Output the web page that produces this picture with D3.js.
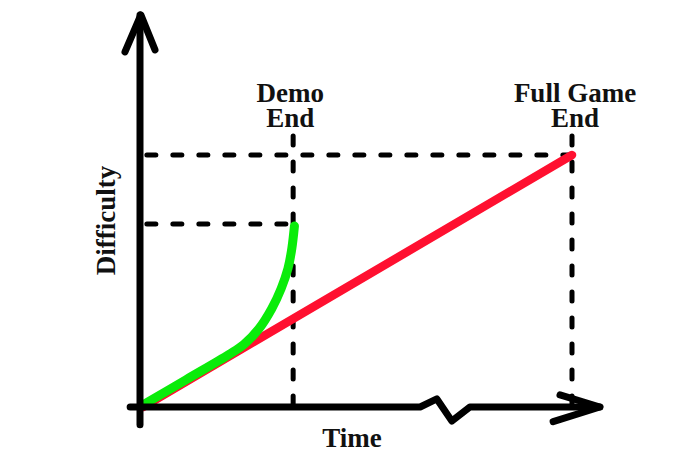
<!DOCTYPE html>
<html>
<head>
<meta charset="utf-8">
<script src="https://cdn.jsdelivr.net/npm/d3@7"></script>
<style>
  html, body { margin: 0; padding: 0; background: #fff; }
  svg { display: block; }
  text { font-family: "Liberation Serif", "Times New Roman", serif; font-weight: bold; fill: #111; }
</style>
</head>
<body>
<div id="chart"></div>
<script>
// ---- data (time and difficulty in relative units; full game end = 1) ----
const milestoneNames = ["Demo End", "Full Game End"];
const milestoneTime = [0.35, 1.0];
const milestoneDifficulty = [0.726, 1.0];

// full game difficulty: steady linear ramp
const fullTime = [0, 1.0];
const fullDifficulty = [0, 1.0];

// demo difficulty: follows the ramp, then spikes before the demo ends
const demoTime = [0, 0.10, 0.20, 0.235, 0.27, 0.30, 0.322, 0.338, 0.347, 0.353];
const demoDifficulty = [0.008, 0.108, 0.208, 0.248, 0.31, 0.39, 0.47, 0.55, 0.63, 0.718];

// axis decorations, in the same data units
const yAxisTop = 1.556;
const yAxisBottom = -0.07;
const xAxisStart = -0.03;
const xAxisEnd = 1.065;
const xBreakTime = [0.646, 0.685, 0.72, 0.762];
const xBreakLevel = [0, 0.032, -0.056, 0];

const W = 700, H = 466;
const svg = d3.select("#chart").append("svg").attr("width", W).attr("height", H);

const x = d3.scaleLinear().domain([0, 1]).range([143, 572]);
const y = d3.scaleLinear().domain([0, 1]).range([407, 155]);

const line = d3.line().x(d => x(d[0])).y(d => y(d[1]));

// dashed guide lines
const guides = svg.append("g")
  .attr("fill", "none").attr("stroke", "#000").attr("stroke-width", 5)
  .attr("stroke-linecap", "round").attr("stroke-dasharray", "9,17");
milestoneTime.forEach((t, i) => {
  guides.append("path").attr("d", line([[0.009, milestoneDifficulty[i]], [t, milestoneDifficulty[i]]]));
  guides.append("path").attr("d", line([[t, 1.075], [t, 0.01]]));
});

// full game line (red)
svg.append("path")
  .attr("d", line(fullTime.map((t, i) => [t, fullDifficulty[i]])))
  .attr("fill", "none").attr("stroke", "#ff1030").attr("stroke-width", 8.5)
  .attr("stroke-linecap", "round");

// demo curve (green)
svg.append("path")
  .attr("d", line.curve(d3.curveCatmullRom)(demoTime.map((t, i) => [t, demoDifficulty[i]])))
  .attr("fill", "none").attr("stroke", "#0aec0a").attr("stroke-width", 9)
  .attr("stroke-linecap", "round").attr("stroke-linejoin", "round");
line.curve(d3.curveLinear);

// axes
const ax = svg.append("g").attr("fill", "none").attr("stroke", "#000")
  .attr("stroke-width", 7).attr("stroke-linecap", "round").attr("stroke-linejoin", "round");
const yAxisX = -0.007;
ax.append("path").attr("d", line([[yAxisX, yAxisBottom], [yAxisX, yAxisTop]]));
ax.append("path").attr("d", line([[-0.042, 1.409], [-0.005, yAxisTop], [0.028, 1.417]]));
const xAxisPts = [[xAxisStart, 0]]
  .concat(xBreakTime.map((t, i) => [t, xBreakLevel[i]]))
  .concat([[xAxisEnd, 0]]);
ax.append("path").attr("d", line(xAxisPts));
ax.append("path").attr("d", line([[0.972, 0.048], [xAxisEnd, 0], [0.956, -0.058]]));

// milestone labels
milestoneNames.forEach((name, i) => {
  const words = name.split(" ");
  const lines = words.length > 2 ? [words.slice(0, 2).join(" "), words[2]] : words;
  const t = svg.append("text").attr("text-anchor", "middle").attr("font-size", 27);
  lines.forEach((l, j) => {
    t.append("tspan").attr("x", x(milestoneTime[i]) + (i === 0 ? -3 : 3))
      .attr("y", 102 + j * 25).text(l);
  });
});

// axis titles
svg.append("text").attr("x", x(0.487)).attr("y", 447)
  .attr("text-anchor", "middle").attr("font-size", 27).text("Time");
svg.append("text").attr("transform", `translate(115, ${y(0.74)}) rotate(-90)`)
  .attr("text-anchor", "middle").attr("font-size", 27).text("Difficulty");
</script>
</body>
</html>
